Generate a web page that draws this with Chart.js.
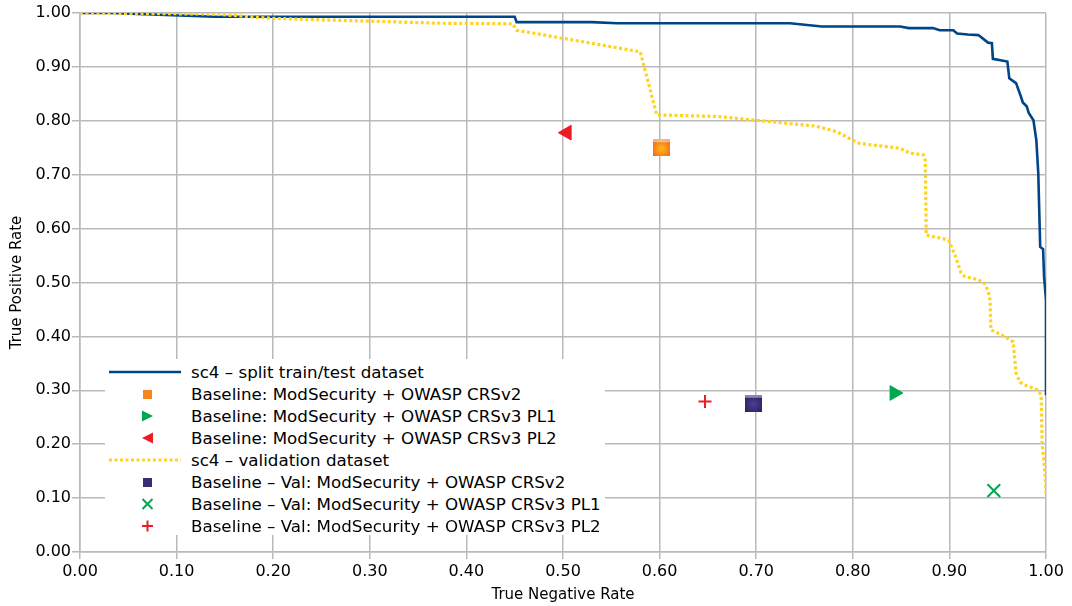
<!DOCTYPE html>
<html>
<head>
<meta charset="utf-8">
<script src="https://cdn.jsdelivr.net/npm/chart.js@4.4.1/dist/chart.umd.min.js"></script>
<style>
    html, body { margin: 0; padding: 0; background: #fff; }
    #wrap { position: relative; width: 1072px; height: 606px; }
    #legend {
        position: absolute; left: 105px; top: 359px; width: 500px; height: 176px;
        background: #fff; font-family: 'DejaVu Sans', sans-serif; font-size: 16.7px; color: #000;
    }
    .row { position: absolute; left: 0; width: 520px; height: 22px; line-height: 22px; white-space: nowrap; }
    .row svg { position: absolute; left: 0; top: 0; }
    .row span { position: absolute; left: 86px; top: 0; }
</style>
</head>
<body>
<div id="wrap">
    <canvas id="roc" width="1072" height="606"></canvas>
    <div id="legend"></div>
</div>
<script>
// sc4 - split train/test curve
const trainTnr = [0.000, 0.030, 0.140, 0.450, 0.452, 0.530, 0.556, 0.735, 0.768, 0.849, 0.858, 0.883, 0.890, 0.904, 0.908, 0.919, 0.930, 0.940, 0.944, 0.945, 0.960, 0.962, 0.969, 0.974, 0.976, 0.980, 0.982, 0.987, 0.990, 0.992, 0.994, 0.997, 0.998, 1.000, 1.000];
const trainTpr = [1.000, 1.000, 0.993, 0.993, 0.983, 0.983, 0.981, 0.981, 0.975, 0.975, 0.972, 0.972, 0.968, 0.968, 0.962, 0.960, 0.959, 0.945, 0.944, 0.915, 0.910, 0.879, 0.870, 0.845, 0.834, 0.827, 0.815, 0.801, 0.764, 0.703, 0.566, 0.562, 0.511, 0.468, 0.291];

// sc4 - validation curve
const valTnr = [0.000, 0.140, 0.200, 0.373, 0.448, 0.452, 0.580, 0.597, 0.660, 0.700, 0.762, 0.783, 0.800, 0.807, 0.849, 0.859, 0.873, 0.875, 0.876, 0.899, 0.906, 0.912, 0.916, 0.930, 0.936, 0.940, 0.942, 0.943, 0.957, 0.966, 0.969, 0.973, 0.978, 0.991, 0.995, 0.996, 0.999, 1.000];
const valTpr = [1.000, 0.998, 0.990, 0.981, 0.980, 0.968, 0.928, 0.811, 0.808, 0.801, 0.790, 0.780, 0.764, 0.758, 0.749, 0.740, 0.737, 0.727, 0.588, 0.579, 0.550, 0.518, 0.511, 0.505, 0.499, 0.485, 0.468, 0.412, 0.400, 0.390, 0.332, 0.315, 0.310, 0.301, 0.291, 0.202, 0.146, 0.109];

// baselines: CRSv2, CRSv3 PL1, CRSv3 PL2
const baseTnr = [0.602, 0.843, 0.504];
const baseTpr = [0.750, 0.295, 0.778];
const baseValTnr = [0.697, 0.946, 0.647];
const baseValTpr = [0.276, 0.114, 0.279];

const seriesLabels = [
    'sc4 – split train/test dataset',
    'Baseline: ModSecurity + OWASP CRSv2',
    'Baseline: ModSecurity + OWASP CRSv3 PL1',
    'Baseline: ModSecurity + OWASP CRSv3 PL2',
    'sc4 – validation dataset',
    'Baseline – Val: ModSecurity + OWASP CRSv2',
    'Baseline – Val: ModSecurity + OWASP CRSv3 PL1',
    'Baseline – Val: ModSecurity + OWASP CRSv3 PL2'
];
const xTitle = 'True Negative Rate';
const yTitle = 'True Positive Rate';

const toPoints = (xs, ys) => xs.map((x, i) => ({ x: x, y: ys[i] }));

// small glossy square used for the CRSv2 markers
function makeSquare(inner, outer) {
    const cv = document.createElement('canvas');
    cv.width = 17; cv.height = 17;
    const g = cv.getContext('2d');
    const rg = g.createRadialGradient(8.5, 9.5, 1, 8.5, 9.5, 11);
    rg.addColorStop(0, inner);
    rg.addColorStop(1, outer);
    g.fillStyle = rg;
    g.fillRect(0, 0, 17, 17);
    g.fillStyle = 'rgba(255,255,255,0.45)';
    g.fillRect(0, 0, 17, 3);
    return cv;
}
const orangeSq = makeSquare('#ffb21a', '#f4661c');
const purpleSq = makeSquare('#4c3c8e', '#2c2062');

const datasets = [
    { label: seriesLabels[0], data: toPoints(trainTnr, trainTpr), showLine: true, borderColor: '#004586', borderWidth: 2.6, pointRadius: 0, order: 2 },
    { label: seriesLabels[1], data: toPoints([baseTnr[0]], [baseTpr[0]]), pointStyle: orangeSq, order: 0 },
    { label: seriesLabels[2], data: toPoints([baseTnr[1]], [baseTpr[1]]), pointStyle: 'triangle', rotation: 90, pointRadius: 8.5, backgroundColor: '#00a650', borderColor: '#00a650', borderWidth: 1, order: 0 },
    { label: seriesLabels[3], data: toPoints([baseTnr[2]], [baseTpr[2]]), pointStyle: 'triangle', rotation: -90, pointRadius: 8.5, backgroundColor: '#ed1c24', borderColor: '#ed1c24', borderWidth: 1, order: 0 },
    { label: seriesLabels[4], data: toPoints(valTnr, valTpr), showLine: true, borderColor: '#ffd320', borderWidth: 3.2, borderDash: [3, 2.5], pointRadius: 0, order: 1 },
    { label: seriesLabels[5], data: toPoints([baseValTnr[0]], [baseValTpr[0]]), pointStyle: purpleSq, order: 0 },
    { label: seriesLabels[6], data: toPoints([baseValTnr[1]], [baseValTpr[1]]), pointStyle: 'crossRot', pointRadius: 9, borderColor: '#00a650', borderWidth: 2, order: 0 },
    { label: seriesLabels[7], data: toPoints([baseValTnr[2]], [baseValTpr[2]]), pointStyle: 'cross', pointRadius: 6.5, borderColor: '#ed1c24', borderWidth: 2, order: 0 }
];

const gridColor = '#b9b9b9';
const tickFont = { family: 'DejaVu Sans', size: 16 };
const titleFont = { family: 'DejaVu Sans', size: 15 };

new Chart(document.getElementById('roc'), {
    type: 'scatter',
    data: { datasets: datasets },
    options: {
        responsive: false,
        animation: false,
        devicePixelRatio: 1,
        layout: { padding: { top: 13, right: 26, left: 0, bottom: 0 } },
        plugins: { legend: { display: false }, tooltip: { enabled: false } },
        scales: {
            x: {
                type: 'linear', min: 0, max: 1,
                ticks: { stepSize: 0.1, color: '#000', font: tickFont, padding: 3, callback: v => v.toFixed(2) },
                grid: { color: gridColor, lineWidth: 1.5, tickLength: 7 },
                border: { color: gridColor, width: 1.5 },
                title: { display: true, text: xTitle, color: '#000', font: titleFont, padding: { top: 0, bottom: 2 } },
                afterFit: axis => { axis.height = 54; }
            },
            y: {
                type: 'linear', min: 0, max: 1,
                ticks: { stepSize: 0.1, color: '#000', font: tickFont, padding: 1, callback: v => v.toFixed(2) },
                grid: { color: gridColor, lineWidth: 1.5, tickLength: 8 },
                border: { color: gridColor, width: 1.5 },
                title: { display: true, text: yTitle, color: '#000', font: titleFont, padding: { top: 8, bottom: 0 } },
                afterFit: axis => { axis.width = 80; }
            }
        }
    }
});

// legend drawn as html on top of the plot area
const legendSymbols = [
    '<line x1="4" y1="11" x2="76" y2="11" stroke="#004586" stroke-width="2.6"/>',
    '<rect x="38" y="7" width="9" height="9" fill="#f7861e"/>',
    '<polygon points="37,5.5 48,11 37,16.5" fill="#00a650"/>',
    '<polygon points="48,5.5 37,11 48,16.5" fill="#ed1c24"/>',
    '<line x1="4" y1="11" x2="76" y2="11" stroke="#ffd320" stroke-width="3.2" stroke-dasharray="3,2.5"/>',
    '<rect x="38" y="7" width="9" height="9" fill="#3a2c78"/>',
    '<path d="M37.5,6 L47.5,16 M47.5,6 L37.5,16" stroke="#00a650" stroke-width="2"/>',
    '<path d="M42.5,5.5 L42.5,16.5 M37,11 L48,11" stroke="#ed1c24" stroke-width="2"/>'
];
const legend = document.getElementById('legend');
seriesLabels.forEach((label, i) => {
    const row = document.createElement('div');
    row.className = 'row';
    row.style.top = (1.7 + i * 22) + 'px';
    row.innerHTML = `<svg width="80" height="22">${legendSymbols[i]}</svg><span>${label}</span>`;
    legend.appendChild(row);
});
</script>
</body>
</html>
